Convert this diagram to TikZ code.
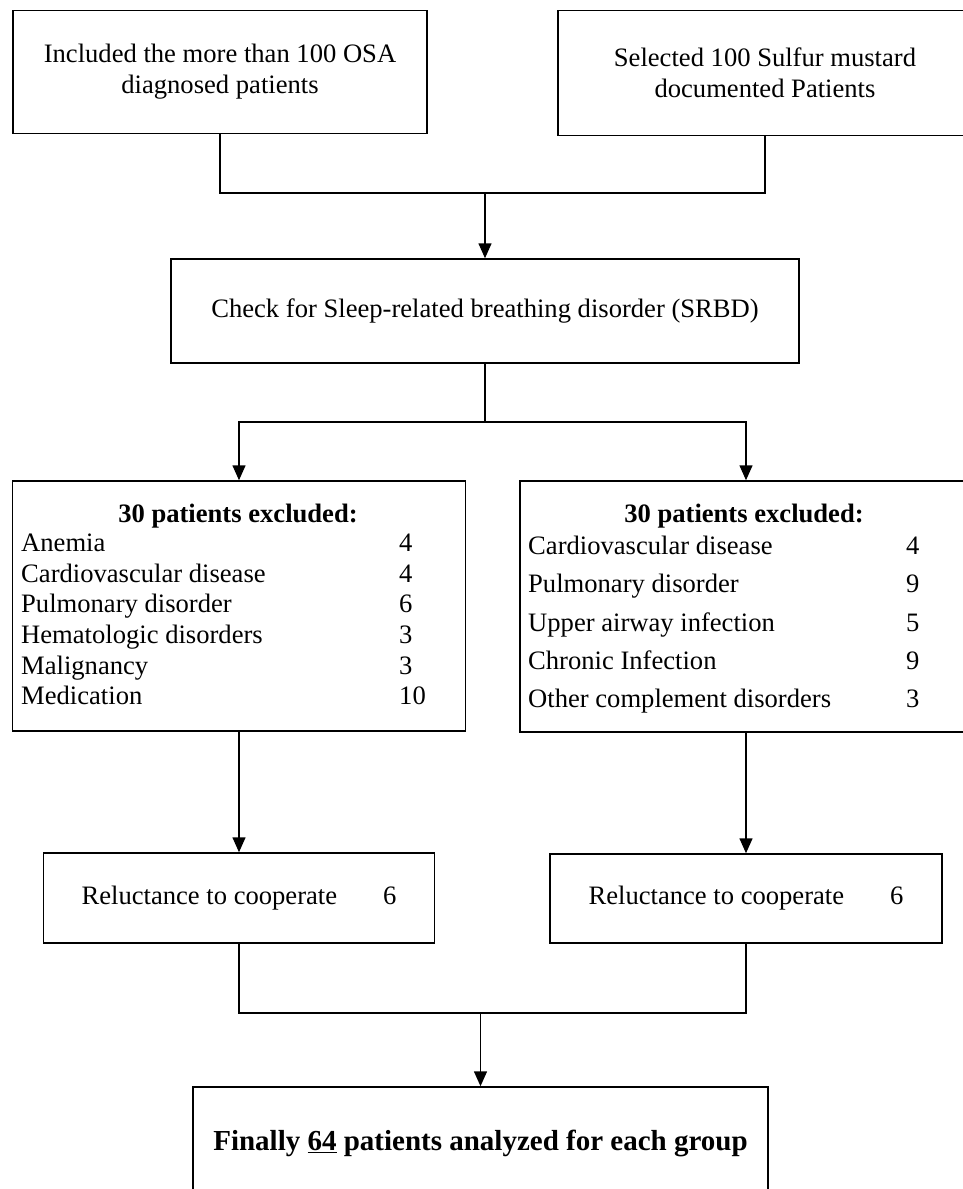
\documentclass[tikz,border=0pt]{standalone}
\usepackage{fontspec}
\setmainfont{Liberation Serif}
\usetikzlibrary{arrows.meta}
\tikzset{
  box/.style={draw, line width=1.5pt, inner sep=0pt, align=center,
    font=\fontsize{26.6}{31}\selectfont},
  item/.style={inner sep=0pt, anchor=west, text height=18.6pt, text depth=5.3pt,
    font=\fontsize{26.6}{28}\selectfont},
  link/.style={line width=1.5pt},
  arr/.style={line width=1.5pt, -{Triangle[length=15pt,width=13pt]}}
}
\begin{document}
\begin{tikzpicture}[x=1pt, y=-1pt]
    \useasboundingbox (0,0) rectangle (963,1189);
    \clip (0,0) rectangle (963,1189);
    % the two groups
    \node[box, minimum width=414pt, minimum height=123pt] (osa) at (220,72) {Included the more than 100 OSA\\diagnosed patients};
    \node[box, minimum width=414pt, minimum height=125pt] (sm) at (765,73) {Selected 100 Sulfur mustard\\documented Patients};
    \node[box, minimum width=628pt, minimum height=104pt] (srbd) at (485,311) {Check for Sleep-related breathing disorder (SRBD)};
    % exclusions
    \node[box, minimum width=453pt, minimum height=250pt] (exl) at (239,606) {};
    \node[box, minimum width=452pt, minimum height=251pt] (exr) at (746,606.5) {};
    \node[item, anchor=center, font=\fontsize{26.6}{28}\selectfont\bfseries] (exltitle) at (238,516) {30 patients excluded:};
    \node[item, anchor=center, font=\fontsize{26.6}{28}\selectfont\bfseries] (exrtitle) at (744,516) {30 patients excluded:};
    \foreach \txt/\n [count=\i] in {Anemia/4, Cardiovascular disease/4, Pulmonary disorder/6,
        Hematologic disorders/3, Malignancy/3, Medication/10} {
      \node[item] (exlitem\i) at (21, 545+30.6*\i-30.6) {\txt};
      \node[item] (exlnum\i) at (399, 545+30.6*\i-30.6) {\n};
    }
    \foreach \txt/\n [count=\i] in {Cardiovascular disease/4, Pulmonary disorder/9,
        Upper airway infection/5, Chronic Infection/9, Other complement disorders/3} {
      \node[item] (exritem\i) at (528, 548+38.25*\i-38.25) {\txt};
      \node[item] (exrnum\i) at (906, 548+38.25*\i-38.25) {\n};
    }
    % reluctance
    \node[box, minimum width=391pt, minimum height=90pt] (rel) at (239,898) {Reluctance to cooperate\hspace{46pt}6};
    \node[box, minimum width=392pt, minimum height=89pt] (rer) at (746,898.5) {Reluctance to cooperate\hspace{46pt}6};
    \node[box, minimum width=575pt, minimum height=112pt, font=\fontsize{29}{31}\selectfont\bfseries] (final) at (480.5,1143) {Finally \underline{64} patients analyzed for each group};
    % connectors
    \coordinate (join1) at (485,193);
    \coordinate (split) at (485,422);
    \coordinate (join2) at (480.5,1013);
    \draw[link] (osa.south) |- (join1) -| (sm.south);
    \draw[arr] (join1) -- (srbd.north);
    \draw[link] (srbd.south) -- (split);
    \draw[arr] (split) -| (exl.north);
    \draw[arr] (split) -| (exr.north);
    \draw[arr] (exl.south) -- (rel.north);
    \draw[arr] (exr.south) -- (rer.north);
    \draw[link] (rel.south) |- (join2) -| (rer.south);
    \draw[arr] (join2) -- (final.north);
\end{tikzpicture}
\end{document}
